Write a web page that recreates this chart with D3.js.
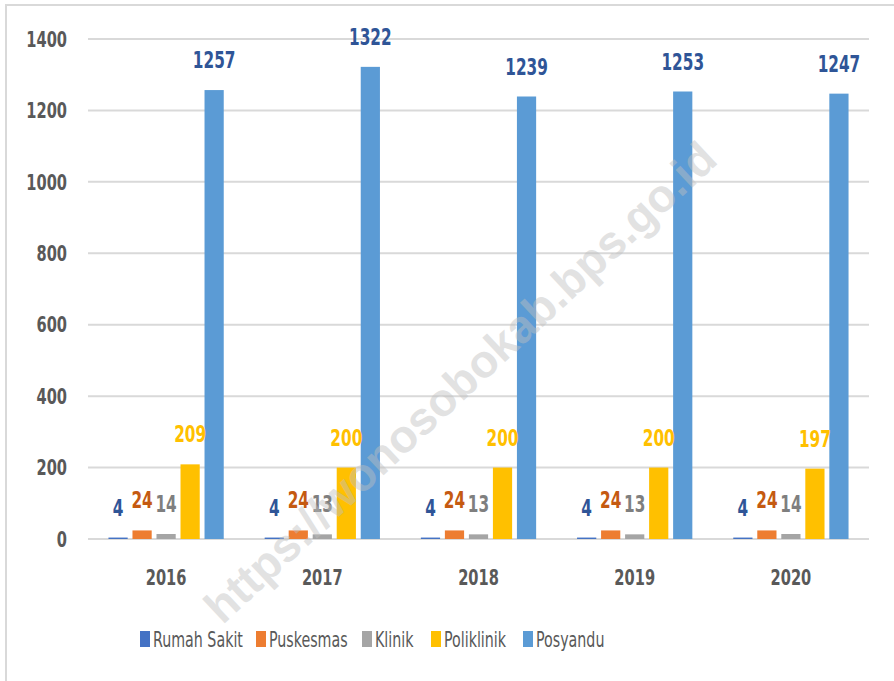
<!DOCTYPE html>
<html>
<head>
<meta charset="utf-8">
<script src="https://cdn.jsdelivr.net/npm/d3@7"></script>
<style>
  body { margin: 0; background: #fff; }
  svg text { font-family: "Liberation Sans Narrow", "DejaVu Sans Condensed", "Roboto", sans-serif; }
</style>
</head>
<body>
<svg id="chart" width="894" height="681"></svg>
<script>
const years = ["2016", "2017", "2018", "2019", "2020"];
const seriesNames = ["Rumah Sakit", "Puskesmas", "Klinik", "Poliklinik", "Posyandu"];
const rumahSakit = [4, 4, 4, 4, 4];
const puskesmas = [24, 24, 24, 24, 24];
const klinik = [14, 13, 13, 13, 14];
const poliklinik = [209, 200, 200, 200, 197];
const posyandu = [1257, 1322, 1239, 1253, 1247];
const yTicks = [0, 200, 400, 600, 800, 1000, 1200, 1400];

const barColors = ["#4472C4", "#ED7D31", "#A5A5A5", "#FFC000", "#5B9BD5"];
const labelColors = ["#2F5597", "#C55A11", "#7F7F7F", "#FFC000", "#2F5597"];

const allSeries = [rumahSakit, puskesmas, klinik, poliklinik, posyandu];

const svg = d3.select("#chart");
const width = 894, height = 681;
const margin = { left: 88, right: 25, top: 39, bottom: 142 };

// the narrow font isn't installed, so squeeze the text horizontally
const squeeze = 0.74;
const place = (xf, yf, sx = squeeze) => d => `translate(${xf(d)},${yf(d)}) scale(${sx},1)`;

// light frame around the chart
svg.append("rect")
    .attr("x", 6).attr("y", 5)
    .attr("width", width).attr("height", height)
    .attr("fill", "none")
    .attr("stroke", "#d9d9d9")
    .attr("stroke-width", 2);

const x0 = d3.scaleBand()
    .domain(years)
    .range([margin.left, width - margin.right])
    .paddingInner(0.262)
    .paddingOuter(0.131);

const x1 = d3.scaleBand()
    .domain(seriesNames)
    .range([0, x0.bandwidth()])
    .paddingInner(0.2);

const y = d3.scaleLinear()
    .domain([0, 1400])
    .range([height - margin.bottom, margin.top]);

// gridlines
svg.append("g")
    .selectAll("line")
    .data(yTicks)
    .join("line")
    .attr("x1", margin.left)
    .attr("x2", width - margin.right)
    .attr("y1", d => y(d))
    .attr("y2", d => y(d))
    .attr("stroke", "#d9d9d9")
    .attr("stroke-width", 2);

// y tick labels
svg.append("g")
    .selectAll("text")
    .data(yTicks)
    .join("text")
    .attr("transform", place(() => 67, d => y(d)))
    .attr("dy", "0.35em")
    .attr("text-anchor", "end")
    .attr("font-size", 22)
    .attr("font-weight", "bold")
    .attr("fill", "#595959")
    .text(d => d);

// x category labels
svg.append("g")
    .selectAll("text")
    .data(years)
    .join("text")
    .attr("transform", place(d => x0(d) + x0.bandwidth() / 2, () => 577))
    .attr("dy", "0.35em")
    .attr("text-anchor", "middle")
    .attr("font-size", 22)
    .attr("font-weight", "bold")
    .attr("fill", "#595959")
    .text(d => d);

// bars and value labels
const rows = [];
years.forEach((yr, i) => {
    seriesNames.forEach((s, j) => {
        rows.push({ year: yr, series: s, idx: j, value: allSeries[j][i] });
    });
});

svg.append("g")
    .selectAll("rect")
    .data(rows)
    .join("rect")
    .attr("x", d => x0(d.year) + x1(d.series))
    .attr("y", d => y(d.value))
    .attr("width", x1.bandwidth())
    .attr("height", d => y(0) - y(d.value))
    .attr("fill", d => barColors[d.idx]);

svg.append("g")
    .selectAll("text")
    .data(rows)
    .join("text")
    .attr("transform", place(d => x0(d.year) + x1(d.series) + x1.bandwidth() / 2, d => y(d.value) - 30))
    .attr("dy", "0.35em")
    .attr("text-anchor", "middle")
    .attr("font-size", 23)
    .attr("font-weight", "bold")
    .attr("fill", d => labelColors[d.idx])
    .text(d => d.value);

// legend
const legendX = [140, 256, 362, 431, 523];
const legend = svg.append("g")
    .selectAll("g")
    .data(seriesNames)
    .join("g")
    .attr("transform", (d, i) => `translate(${legendX[i]},639)`);

legend.append("rect")
    .attr("x", 0).attr("y", -8)
    .attr("width", 10).attr("height", 16)
    .attr("fill", (d, i) => barColors[i]);

legend.append("text")
    .attr("transform", "translate(13,0) scale(0.72,1)")
    .attr("dy", "0.35em")
    .attr("font-size", 22)
    .attr("fill", "#595959")
    .text(d => d);

// watermark
svg.append("text")
    .attr("transform", "translate(460,382) rotate(-43)")
    .attr("text-anchor", "middle")
    .attr("dy", "0.35em")
    .attr("font-size", 46)
    .attr("font-weight", "bold")
    .style("font-family", "'Liberation Sans', Arial, sans-serif")
    .attr("fill", "#bfbfbf")
    .attr("opacity", 0.45)
    .text("https://wonosobokab.bps.go.id");
</script>
</body>
</html>
